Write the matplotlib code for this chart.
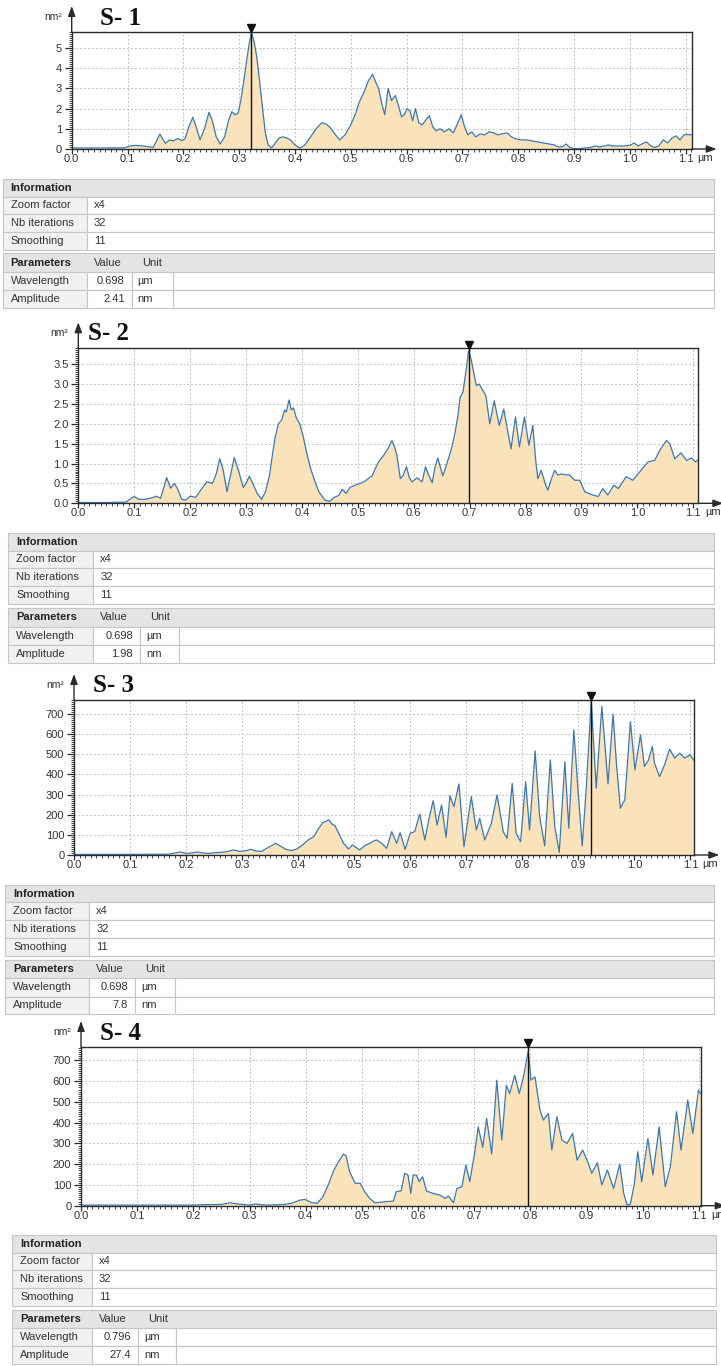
import matplotlib.pyplot as plt
import matplotlib.transforms as mtransforms
from matplotlib.patches import Rectangle
from matplotlib.ticker import MultipleLocator, AutoMinorLocator, FormatStrFormatter
import numpy as np

W, H = 721, 1366

# power spectral density profiles (x in µm, y in nm²)
s1_x = [0.000, 0.050, 0.095, 0.105, 0.115, 0.125, 0.135, 0.146, 0.152, 0.158,
        0.163, 0.168, 0.175, 0.182, 0.190, 0.197, 0.203, 0.210, 0.217, 0.223,
        0.230, 0.238, 0.246, 0.252, 0.259, 0.266, 0.274, 0.281, 0.287, 0.292,
        0.298, 0.303, 0.308, 0.313, 0.318, 0.322, 0.327, 0.332, 0.337, 0.342,
        0.347, 0.352, 0.358, 0.365, 0.372, 0.378, 0.385, 0.392, 0.400, 0.409,
        0.418, 0.428, 0.438, 0.448, 0.455, 0.462, 0.470, 0.480, 0.490, 0.500,
        0.508, 0.515, 0.525, 0.532, 0.539, 0.545, 0.550, 0.556, 0.561, 0.567,
        0.573, 0.580, 0.586, 0.591, 0.596, 0.601, 0.606, 0.611, 0.616, 0.622,
        0.628, 0.635, 0.641, 0.647, 0.653, 0.660, 0.668, 0.676, 0.684, 0.692,
        0.698, 0.704, 0.710, 0.717, 0.724, 0.732, 0.740, 0.748, 0.756, 0.764,
        0.772, 0.780, 0.788, 0.796, 0.805, 0.815, 0.825, 0.835, 0.845, 0.855,
        0.865, 0.872, 0.880, 0.886, 0.892, 0.900, 0.910, 0.920, 0.930, 0.938,
        0.946, 0.955, 0.962, 0.970, 0.980, 0.990, 1.000, 1.008, 1.015, 1.022,
        1.030, 1.038, 1.045, 1.052, 1.060, 1.068, 1.076, 1.083, 1.090, 1.097,
        1.104, 1.111]
s1_y = [0.05, 0.05, 0.06, 0.15, 0.18, 0.16, 0.12, 0.08, 0.40, 0.74,
        0.50, 0.28, 0.45, 0.40, 0.52, 0.42, 0.50, 1.10, 1.57, 1.10,
        0.45, 1.00, 1.82, 1.40, 0.60, 0.25, 0.60, 1.40, 1.85, 1.70,
        1.75, 2.40, 3.30, 4.30, 5.20, 5.80, 5.30, 4.50, 3.30, 2.00,
        0.80, 0.20, 0.05, 0.30, 0.55, 0.60, 0.55, 0.45, 0.20, 0.05,
        0.20, 0.60, 1.00, 1.30, 1.25, 1.10, 0.80, 0.45, 0.70, 1.20,
        1.70, 2.30, 2.90, 3.40, 3.70, 3.30, 3.00, 2.20, 1.70, 3.00,
        2.40, 2.65, 2.10, 1.60, 1.70, 2.00, 1.90, 1.40, 2.00, 1.30,
        1.20, 1.45, 1.65, 1.10, 0.90, 1.00, 0.85, 1.00, 0.80, 1.30,
        1.70, 1.10, 0.70, 0.85, 0.60, 0.75, 0.70, 0.85, 0.80, 0.70,
        0.75, 0.80, 0.60, 0.50, 0.45, 0.45, 0.40, 0.35, 0.30, 0.25,
        0.20, 0.10, 0.12, 0.25, 0.08, 0.02, 0.02, 0.05, 0.08, 0.15,
        0.10, 0.15, 0.20, 0.15, 0.15, 0.15, 0.18, 0.30, 0.15, 0.25,
        0.35, 0.15, 0.08, 0.15, 0.45, 0.30, 0.55, 0.65, 0.45, 0.70,
        0.72, 0.70]

s2_x = [0.000, 0.050, 0.085, 0.092, 0.100, 0.108, 0.120, 0.132, 0.140, 0.147,
        0.152, 0.158, 0.165, 0.172, 0.178, 0.185, 0.192, 0.200, 0.210, 0.220,
        0.230, 0.240, 0.247, 0.253, 0.259, 0.266, 0.273, 0.279, 0.286, 0.295,
        0.300, 0.306, 0.312, 0.320, 0.328, 0.335, 0.342, 0.347, 0.352, 0.358,
        0.364, 0.369, 0.372, 0.377, 0.381, 0.385, 0.390, 0.396, 0.402, 0.408,
        0.415, 0.422, 0.430, 0.441, 0.450, 0.458, 0.466, 0.472, 0.479, 0.486,
        0.494, 0.504, 0.512, 0.519, 0.526, 0.531, 0.537, 0.546, 0.553, 0.561,
        0.566, 0.570, 0.576, 0.581, 0.587, 0.592, 0.597, 0.606, 0.615, 0.621,
        0.627, 0.633, 0.638, 0.643, 0.652, 0.657, 0.662, 0.668, 0.674, 0.679,
        0.683, 0.688, 0.694, 0.698, 0.703, 0.706, 0.712, 0.717, 0.723, 0.729,
        0.736, 0.744, 0.753, 0.761, 0.767, 0.774, 0.782, 0.789, 0.798, 0.806,
        0.813, 0.818, 0.822, 0.828, 0.836, 0.840, 0.846, 0.852, 0.858, 0.864,
        0.870, 0.879, 0.888, 0.897, 0.906, 0.918, 0.930, 0.938, 0.947, 0.958,
        0.966, 0.980, 0.992, 1.004, 1.019, 1.031, 1.040, 1.052, 1.058, 1.067,
        1.078, 1.088, 1.097, 1.104, 1.109]
s2_y = [0.02, 0.02, 0.03, 0.10, 0.17, 0.10, 0.10, 0.14, 0.18, 0.12,
        0.35, 0.65, 0.38, 0.50, 0.35, 0.10, 0.08, 0.18, 0.15, 0.35,
        0.54, 0.50, 0.75, 1.12, 0.85, 0.29, 0.75, 1.15, 0.85, 0.40,
        0.50, 0.68, 0.50, 0.25, 0.10, 0.30, 0.70, 1.20, 1.65, 2.00,
        2.10, 2.35, 2.30, 2.60, 2.35, 2.40, 2.15, 2.00, 1.70, 1.30,
        0.90, 0.60, 0.30, 0.08, 0.05, 0.15, 0.20, 0.35, 0.25, 0.40,
        0.45, 0.50, 0.55, 0.62, 0.70, 0.87, 1.04, 1.20, 1.35, 1.58,
        1.40, 1.20, 0.62, 0.70, 0.92, 0.65, 0.54, 0.64, 0.54, 0.92,
        0.70, 0.52, 0.90, 1.14, 0.69, 0.90, 1.12, 1.40, 1.79, 2.20,
        2.67, 2.79, 3.38, 3.83, 3.60, 3.38, 2.96, 3.00, 2.85, 2.71,
        2.00, 2.58, 1.96, 2.37, 1.90, 1.37, 2.17, 1.42, 2.17, 1.46,
        1.96, 1.10, 0.62, 0.83, 0.46, 0.33, 0.60, 0.83, 0.71, 0.74,
        0.72, 0.71, 0.58, 0.58, 0.29, 0.22, 0.17, 0.37, 0.21, 0.46,
        0.37, 0.67, 0.58, 0.79, 1.04, 1.08, 1.33, 1.58, 1.50, 1.12,
        1.27, 1.08, 1.14, 1.04, 1.10]

s3_x = [0.000, 0.100, 0.170, 0.180, 0.190, 0.200, 0.210, 0.220, 0.230, 0.240,
        0.255, 0.270, 0.285, 0.295, 0.305, 0.315, 0.325, 0.335, 0.345, 0.355,
        0.360, 0.368, 0.378, 0.388, 0.398, 0.408, 0.418, 0.428, 0.436, 0.444,
        0.450, 0.455, 0.460, 0.466, 0.472, 0.481, 0.490, 0.497, 0.503, 0.510,
        0.518, 0.528, 0.535, 0.540, 0.549, 0.558, 0.567, 0.576, 0.582, 0.591,
        0.600, 0.608, 0.617, 0.626, 0.635, 0.641, 0.648, 0.656, 0.664, 0.671,
        0.678, 0.687, 0.696, 0.709, 0.718, 0.724, 0.733, 0.745, 0.755, 0.766,
        0.773, 0.782, 0.789, 0.797, 0.806, 0.813, 0.823, 0.831, 0.840, 0.850,
        0.858, 0.866, 0.876, 0.883, 0.892, 0.899, 0.907, 0.914, 0.923, 0.932,
        0.942, 0.953, 0.962, 0.968, 0.975, 0.983, 0.993, 1.001, 1.011, 1.018,
        1.025, 1.032, 1.036, 1.045, 1.054, 1.063, 1.072, 1.081, 1.090, 1.099,
        1.107]
s3_y = [3, 3, 4, 10, 15, 8, 10, 15, 10, 8,
        12, 15, 25, 18, 20, 28, 20, 18, 35, 50,
        58, 45, 28, 22, 30, 50, 75, 91, 130, 160,
        168, 174, 155, 145, 110, 58, 30, 50, 38, 25,
        45, 58, 70, 75, 58, 33, 116, 58, 111, 28,
        108, 116, 204, 75, 199, 270, 149, 249, 88, 294,
        240, 353, 41, 290, 124, 182, 75, 158, 299, 116,
        83, 356, 108, 66, 365, 124, 517, 191, 45, 473,
        141, 13, 464, 133, 622, 340, 46, 323, 766, 332,
        738, 353, 700, 456, 232, 274, 663, 423, 597, 440,
        470, 539, 456, 390, 448, 526, 481, 506, 481, 498,
        469]

s4_x = [0.000, 0.100, 0.200, 0.220, 0.250, 0.265, 0.280, 0.300, 0.310, 0.330,
        0.360, 0.375, 0.390, 0.399, 0.410, 0.420, 0.430, 0.440, 0.450, 0.458,
        0.467, 0.472, 0.478, 0.488, 0.497, 0.505, 0.514, 0.523, 0.541, 0.556,
        0.561, 0.570, 0.576, 0.582, 0.587, 0.591, 0.597, 0.602, 0.608, 0.615,
        0.627, 0.639, 0.648, 0.654, 0.663, 0.669, 0.678, 0.685, 0.692, 0.701,
        0.707, 0.715, 0.722, 0.731, 0.740, 0.749, 0.757, 0.763, 0.772, 0.780,
        0.787, 0.796, 0.801, 0.808, 0.817, 0.823, 0.832, 0.838, 0.847, 0.856,
        0.865, 0.875, 0.883, 0.893, 0.903, 0.909, 0.919, 0.927, 0.937, 0.948,
        0.959, 0.966, 0.972, 0.978, 0.985, 0.991, 0.998, 1.009, 1.018, 1.029,
        1.040, 1.049, 1.060, 1.068, 1.080, 1.089, 1.099, 1.103]
s4_y = [3, 3, 3, 5, 6, 14, 8, 3, 8, 3,
        5, 12, 27, 30, 15, 11, 40, 100, 170, 210,
        249, 240, 164, 108, 108, 67, 35, 14, 19, 22,
        67, 72, 156, 148, 59, 148, 148, 116, 140, 71,
        59, 51, 35, 47, 14, 83, 91, 196, 116, 260,
        380, 281, 420, 249, 605, 316, 581, 541, 629, 541,
        613, 745, 605, 621, 461, 413, 445, 268, 429, 316,
        300, 348, 220, 268, 204, 156, 207, 100, 172, 83,
        201, 59, 3, 8, 108, 260, 116, 324, 148, 380,
        91, 188, 453, 268, 509, 348, 557, 541]

titles = ["S- 1", "S- 2", "S- 3", "S- 4"]
zoom_factor = ["x4", "x4", "x4", "x4"]
nb_iterations = ["32", "32", "32", "32"]
smoothing = ["11", "11", "11", "11"]
wavelength = ["0.698", "0.698", "0.698", "0.796"]
amplitude = ["2.41", "1.98", "7.8", "27.4"]

series = [(s1_x, s1_y), (s2_x, s2_y), (s3_x, s3_y), (s4_x, s4_y)]

# page layout in pixels: (left, right, top, bottom) of each plot box
boxes = [(71.7, 691.7, 32, 149), (78.3, 698.3, 348.3, 503.3),
         (74, 694.3, 700, 855), (81, 700.7, 1047, 1205.7)]
ymaxes = [5.8, 3.9, 770, 765]
ysteps = [1, 0.5, 100, 100]
yfmts = ["%d", "%.1f", "%d", "%d"]
xmaxes = [1.111, 1.109, 1.107, 1.103]
title_pos = [(100, 18.3), (88, 333), (92.7, 685), (100, 1033)]
tables = [
    dict(L=2.7, R=714, info=[179.3, 196.7, 214.3, 232.3, 250],
         par=[253.3, 271.7, 290, 308.3], cols=[86.7, 131.7, 172.7]),
    dict(L=8.3, R=714, info=[533.3, 550.7, 568.3, 586, 604],
         par=[608.3, 626.7, 645, 663.3], cols=[93.3, 140, 179.3]),
    dict(L=5, R=714, info=[885, 902.3, 920, 937.7, 955.7],
         par=[960, 978.3, 996.7, 1014.3], cols=[89.3, 135, 175]),
    dict(L=12, R=716, info=[1235, 1252.5, 1270, 1288, 1306],
         par=[1310, 1328, 1346, 1364], cols=[92, 138, 176]),
]

FILL = "#fae2bb"
LINE = "#3a78b0"
DARK = "#2b2b2b"
GRID = "#c2c2c2"
HEAD_BG = "#e4e4e4"
LABEL_BG = "#f1f1f1"
BORDER = "#c6c6c6"
SANS = "Liberation Sans"

fig = plt.figure(figsize=(W / 100, H / 100), dpi=100)
page = fig.add_axes([0, 0, 1, 1])
page.set_xlim(0, W)
page.set_ylim(H, 0)
page.axis("off")


def draw_chart(k):
    l, r, t, b = boxes[k]
    xs, ys = series[k]
    ymax = ymaxes[k]
    ax = fig.add_axes([l / W, 1 - b / H, (r - l) / W, (b - t) / H])
    ax.set_axisbelow(True)
    ax.fill_between(xs, ys, 0, color=FILL, lw=0, zorder=1)
    ax.plot(xs, ys, color=LINE, lw=0.9, zorder=2)
    ax.set_xlim(0, xmaxes[k])
    ax.set_ylim(0, ymax)

    ax.xaxis.set_major_locator(MultipleLocator(0.1))
    ax.xaxis.set_minor_locator(MultipleLocator(0.01))
    ax.xaxis.set_major_formatter(FormatStrFormatter("%.1f"))
    ax.yaxis.set_major_locator(MultipleLocator(ysteps[k]))
    ax.yaxis.set_minor_locator(AutoMinorLocator(10))
    ax.yaxis.set_major_formatter(FormatStrFormatter(yfmts[k]))
    ax.grid(True, which="major", color=GRID, ls=(0, (2, 2)), lw=0.7)

    for sp in ax.spines.values():
        sp.set_color(DARK)
        sp.set_linewidth(1.0)
    ax.tick_params(axis="x", which="major", length=3.5, width=0.9, pad=0,
                   color=DARK, labelsize=8, labelcolor="#333333")
    ax.tick_params(axis="x", which="minor", length=2, width=0.6, color=DARK)
    ax.tick_params(axis="y", which="major", length=5, width=0.9, pad=2,
                   color=DARK, labelsize=8, labelcolor="#333333")
    ax.tick_params(axis="y", which="minor", length=2.5, width=0.6, color=DARK)
    for lab in ax.get_xticklabels() + ax.get_yticklabels():
        lab.set_family(SANS)

    # axis arrows beyond the plot box
    arrow = dict(arrowstyle="-|>,head_length=0.6,head_width=0.22", color=DARK,
                 lw=1.0, shrinkA=0, shrinkB=0)
    ax.annotate("", xy=(0, 1 + 26 / (b - t)), xytext=(0, 1),
                xycoords="axes fraction", arrowprops=arrow, annotation_clip=False)
    ax.annotate("", xy=(1 + 25 / (r - l), 0), xytext=(1, 0),
                xycoords="axes fraction", arrowprops=arrow, annotation_clip=False)

    ax.annotate("µm", xy=(1.1, 0), xycoords=("data", "axes fraction"),
                xytext=(12, -4), textcoords="offset pixels", ha="left", va="top",
                fontsize=8, family=SANS, color="#333333")
    ax.annotate("nm²", xy=(0, 1), xycoords="axes fraction",
                xytext=(-10, 15), textcoords="offset pixels", ha="right",
                va="center", fontsize=7.5, family=SANS, color="#333333")

    # dominant peak marker
    i = int(np.argmax(ys))
    px = xs[i]
    ax.plot([px, px], [0, ymax], color="#111111", lw=1.0, zorder=3)
    tri = mtransforms.offset_copy(ax.transData, fig=fig, y=2.6, units="points")
    ax.plot([px], [ymax], marker="v", ms=6, color="#111111", transform=tri,
            clip_on=False, zorder=4)

    tx, ty = title_pos[k]
    page.text(tx, ty, titles[k], ha="left", va="center", fontsize=18,
              fontweight="bold", family="Liberation Serif", color="#111111")


def cell(x0, x1, y0, y1, bg):
    page.add_patch(Rectangle((x0, y0), x1 - x0, y1 - y0, facecolor=bg,
                             edgecolor=BORDER, lw=0.8))


def draw_tables(k):
    tb = tables[k]
    L, R = tb["L"], tb["R"]
    c1, c2, c3 = tb["cols"]
    fs = 8
    y = tb["info"]
    cell(L, R, y[0], y[1], HEAD_BG)
    page.text(L + 8, (y[0] + y[1]) / 2, "Information", ha="left", va="center",
              fontsize=fs, fontweight="bold", family=SANS, color="#222222")
    rows = [("Zoom factor", zoom_factor[k]), ("Nb iterations", nb_iterations[k]),
            ("Smoothing", smoothing[k])]
    for j, (name, val) in enumerate(rows):
        cell(L, c1, y[j + 1], y[j + 2], LABEL_BG)
        cell(c1, R, y[j + 1], y[j + 2], "white")
        ym = (y[j + 1] + y[j + 2]) / 2
        page.text(L + 8, ym, name, ha="left", va="center", fontsize=fs,
                  family=SANS, color="#333333")
        page.text(c1 + 7, ym, val, ha="left", va="center", fontsize=fs,
                  family=SANS, color="#333333")

    y = tb["par"]
    cell(L, R, y[0], y[1], HEAD_BG)
    ym = (y[0] + y[1]) / 2
    page.text(L + 8, ym, "Parameters", ha="left", va="center", fontsize=fs,
              fontweight="bold", family=SANS, color="#222222")
    page.text(c1 + 7, ym, "Value", ha="left", va="center", fontsize=fs,
              family=SANS, color="#333333")
    page.text(c2 + 10, ym, "Unit", ha="left", va="center", fontsize=fs,
              family=SANS, color="#333333")
    rows = [("Wavelength", wavelength[k], "µm"), ("Amplitude", amplitude[k], "nm")]
    for j, (name, val, unit) in enumerate(rows):
        y0, y1 = y[j + 1], y[j + 2]
        cell(L, c1, y0, y1, LABEL_BG)
        cell(c1, c2, y0, y1, "white")
        cell(c2, c3, y0, y1, "white")
        cell(c3, R, y0, y1, "white")
        ym = (y0 + y1) / 2
        page.text(L + 8, ym, name, ha="left", va="center", fontsize=fs,
                  family=SANS, color="#333333")
        page.text(c2 - 7, ym, val, ha="right", va="center", fontsize=fs,
                  family=SANS, color="#333333")
        page.text(c2 + 6, ym, unit, ha="left", va="center", fontsize=fs,
                  family=SANS, color="#333333")


for k in range(4):
    draw_chart(k)
    draw_tables(k)

fig.savefig("out.png", dpi=100, facecolor="white")
